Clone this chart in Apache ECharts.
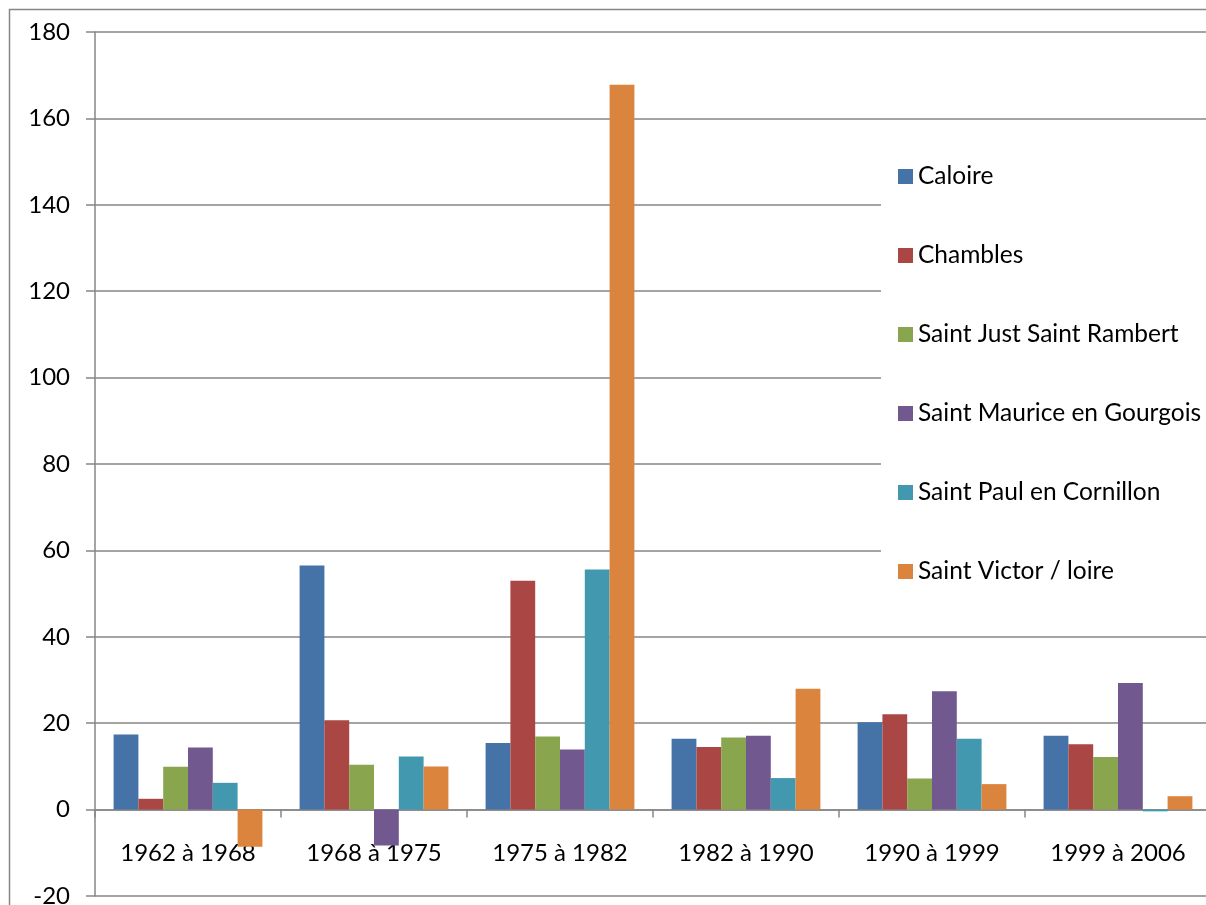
<!DOCTYPE html>
<html>
<head>
<meta charset="utf-8">
<script src="https://cdn.jsdelivr.net/npm/echarts@6/dist/echarts.min.js"></script>
<style>
  html, body { margin: 0; padding: 0; background: #fff; }
  #chart { width: 1206px; height: 905px; }
</style>
</head>
<body>
<div id="chart"></div>
<script>
// périodes intercensitaires
var periods = ["1962 à 1968", "1968 à 1975", "1975 à 1982", "1982 à 1990", "1990 à 1999", "1999 à 2006"];
var communes = ["Caloire", "Chambles", "Saint Just Saint Rambert", "Saint Maurice en Gourgois", "Saint Paul en Cornillon", "Saint Victor / loire"];

// variation par commune (une valeur par période)
var caloire = [17.4, 56.5, 15.4, 16.4, 20.2, 17.1];
var chambles = [2.5, 20.7, 53.0, 14.5, 22.1, 15.1];
var saintJust = [9.9, 10.4, 16.9, 16.7, 7.2, 12.2];
var saintMaurice = [14.4, -8.3, 13.9, 17.1, 27.4, 29.3];
var saintPaul = [6.2, 12.3, 55.6, 7.3, 16.4, -0.4];
var saintVictor = [-8.6, 10.0, 167.8, 28.0, 5.9, 3.1];

var colors = ["#4572A7", "#AA4643", "#89A54E", "#71588F", "#4198AF", "#DB843D"];
var values = [caloire, chambles, saintJust, saintMaurice, saintPaul, saintVictor];

var font = "Lato, 'Open Sans', sans-serif";
var myChart = echarts.init(document.getElementById("chart"));

var series = communes.map(function(name, i) {
  return {
    name: name,
    type: "bar",
    barGap: "0%",
    barCategoryGap: "20%",
    itemStyle: { color: colors[i] },
    data: values[i]
  };
});

myChart.setOption({
  animation: false,
  color: colors,
  textStyle: { fontFamily: font },
  graphic: [
    {
      type: "rect",
      shape: { x: 9.5, y: 9.5, width: 1300, height: 1000 },
      style: { fill: "none", stroke: "#868686", lineWidth: 1.5 },
      z: 100
    }
  ],
  grid: {
    left: 95,
    top: 32,
    width: 1116,
    bottom: 9,
    containLabel: false,
    outerBoundsMode: "none"
  },
  legend: {
    orient: "vertical",
    left: 881,
    top: 134,
    padding: [30, 10, 30, 17],
    backgroundColor: "#fff",
    icon: "rect",
    itemWidth: 15,
    itemHeight: 15,
    itemGap: 54,
    data: communes,
    textStyle: {
      fontFamily: font,
      fontSize: 24.5,
      lineHeight: 23,
      color: "#000"
    },
    z: 10
  },
  xAxis: {
    type: "category",
    data: periods,
    axisLine: { onZero: true, lineStyle: { color: "#868686", width: 1.5 } },
    axisTick: { show: true, length: 8, lineStyle: { color: "#868686", width: 1.5 } },
    axisLabel: {
      margin: -55,
      fontSize: 24,
      fontFamily: font,
      color: "#000"
    }
  },
  yAxis: {
    type: "value",
    min: -20,
    max: 180,
    interval: 20,
    axisLine: { show: true, lineStyle: { color: "#868686", width: 1.5 } },
    axisTick: { show: true, length: 9, lineStyle: { color: "#868686", width: 1.5 } },
    axisLabel: {
      margin: 25,
      fontSize: 24,
      fontFamily: font,
      color: "#000"
    },
    splitLine: { show: true, lineStyle: { color: "#868686", width: 1.5 } }
  },
  series: series
});
</script>
</body>
</html>
